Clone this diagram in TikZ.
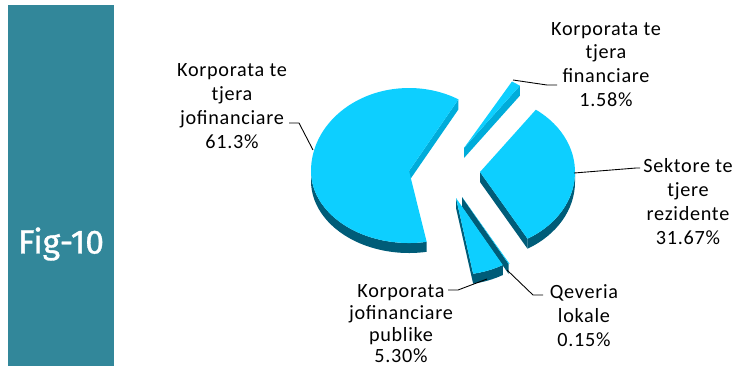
\documentclass[tikz,border=0pt]{standalone}
\usepackage{fontspec}
\setmainfont{Carlito}[LetterSpace=3.5]
\newfontfamily\figfont{Fira Sans}[FakeBold=1]

\definecolor{barteal}{RGB}{50,135,154}
\definecolor{pietop}{RGB}{13,207,255}
\definecolor{pieside}{RGB}{0,92,120}
\definecolor{piecut}{RGB}{0,172,218}

\begin{document}
\begin{tikzpicture}[x=0.02cm, y=-0.02cm,
    slicetop/.style={fill=pietop},
    sliceside/.style={fill=pieside},
    slicecut/.style={fill=piecut},
    lbl/.style={align=center, inner sep=0pt, font=\fontsize{11.5}{13.6}\selectfont},
    leader/.style={draw=black, line width=0.5pt}]

    \useasboundingbox (0,0) rectangle (749,370);

    % Side bar with figure number
    \fill[barteal] (8,5) rectangle (114,366);
    \node[text=white, font=\figfont\fontsize{19}{21}\selectfont] (fig) at (61,244) {Fig-10};

    % Korporata te tjera financiare (thin slice at the back)
    \fill[slicecut] (464,148) -- ++(-54:95 and 77) -- ++(0,10) -- (464,158) -- cycle;
    \fill[slicetop] (464,148) -- ++(-59.7:95 and 77) arc[start angle=-59.7, end angle=-54, x radius=95, y radius=77] -- cycle;

    % Korporata te tjera jofinanciare (big slice)
    \fill[slicecut] (409,171) -- ++(300.3:98 and 83) -- ++(0,10) -- (409,181) -- cycle;
    \fill[sliceside] (409,171) ++(79.6:98 and 72) arc[start angle=79.6, end angle=180, x radius=98, y radius=72]
        -- ++(0,10) arc[start angle=180, end angle=79.6, x radius=98, y radius=72] -- cycle;
    \fill[slicetop] (409,171) -- ++(79.6:98 and 72) arc[start angle=79.6, end angle=180, x radius=98, y radius=72]
        arc[start angle=180, end angle=300.3, x radius=98, y radius=83] -- cycle;

    % Sektore te tjere rezidente
    \fill[sliceside] (480,172) -- ++(60:95 and 77) -- ++(0,10) -- (480,182) -- cycle;
    \fill[sliceside] (480,172) ++(0:95 and 77) arc[start angle=0, end angle=60, x radius=95, y radius=77]
        -- ++(0,10) arc[start angle=60, end angle=0, x radius=95, y radius=77] -- cycle;
    \fill[slicetop] (480,172) -- ++(-54:95 and 77) arc[start angle=-54, end angle=60, x radius=95, y radius=77] -- cycle;

    % Qeveria lokale (very thin)
    \fill[sliceside] (462,197) -- ++(60.54:95 and 77) -- ++(0,10) -- (462,207) -- cycle;
    \fill[slicetop] (462,197) -- ++(60:95 and 77) arc[start angle=60, end angle=60.54, x radius=95, y radius=77] -- cycle;

    % Korporata jofinanciare publike
    \fill[sliceside] (456,198) -- ++(79.6:95 and 77) -- ++(0,10) -- (456,208) -- cycle;
    \fill[sliceside] (456,198) ++(60.5:95 and 77) arc[start angle=60.5, end angle=79.6, x radius=95, y radius=77]
        -- ++(0,10) arc[start angle=79.6, end angle=60.5, x radius=95, y radius=77] -- cycle;
    \fill[slicetop] (456,198) -- ++(60.5:95 and 77) arc[start angle=60.5, end angle=79.6, x radius=95, y radius=77] -- cycle;

    % Labels
    \node[lbl] (jofin) at (232,106) {Korporata te\\tjera\\jofinanciare\\61.3\%};
    \node[lbl] (fin) at (606,64.5) {Korporata te\\tjera\\financiare\\1.58\%};
    \node[lbl] (sek) at (688,201.5) {Sektore te\\tjere\\rezidente\\31.67\%};
    \node[lbl, font=\fontsize{11.5}{12.3}\selectfont] (pub) at (401,324) {Korporata\\jofinanciare\\publike\\5.30\%};
    \node[lbl] (qev) at (584,316) {Qeveria\\lokale\\0.15\%};

    % Leader line ends
    \coordinate (jofin-end) at (289,123);
    \coordinate (jofin-pt) at (313,150);
    \coordinate (fin-end) at (557,85);
    \coordinate (fin-pt) at (513,80);
    \coordinate (sek-end) at (640,168);
    \coordinate (sek-pt) at (574,173);
    \coordinate (pub-end) at (448,290);
    \coordinate (pub-pt) at (487,279);
    \coordinate (qev-end) at (543,295);
    \coordinate (qev-pt) at (507,270);

    % Leader lines
    \draw[leader] (jofin-end) -- ++(10,0) -- (jofin-pt);
    \draw[leader] (fin-end) -- ++(-10,0) -- (fin-pt);
    \draw[leader] (sek-end) -- ++(-4,0) -- (sek-pt);
    \draw[leader] (pub-end) -- ++(10,0) -- (pub-pt);
    \draw[leader] (qev-end) -- ++(-10,0) -- (qev-pt);

\end{tikzpicture}
\end{document}
